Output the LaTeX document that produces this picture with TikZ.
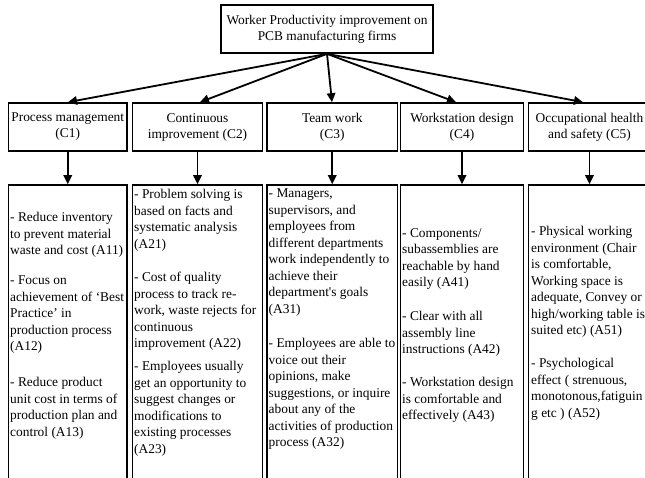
\documentclass[tikz,border=0pt]{standalone}
\usepackage{fontspec}
\setmainfont{Liberation Serif}[Ligatures=TeXOff]
\usetikzlibrary{arrows.meta}
\begin{document}
\begin{tikzpicture}[x=1pt,y=-1pt,
  box/.style={draw, line width=1.7pt, inner sep=0pt},
  cbox/.style={box, align=center, font=\fontsize{13.4}{16}\selectfont},
  abox/.style={box, minimum height=315pt},
  atext/.style={anchor=north west, inner sep=0pt, align=left, font=\fontsize{13.4}{16.5}\selectfont},
  arr/.style={line width=1.8pt, -{Triangle[length=9pt,width=8.5pt]}}]
\useasboundingbox (0,0) rectangle (645,477);
\clip (0,0) rectangle (645,477);

% top box
\node[cbox, minimum width=212pt, minimum height=48pt] (top) at (327,29) {Worker Productivity improvement on\\PCB manufacturing firms};

% criteria boxes
\node[cbox, minimum width=118.5pt, minimum height=48pt] (c1) at (67.75,127) {Process management\\(C1)};
\node[cbox, minimum width=130pt, minimum height=48pt] (c2) at (197.5,127) {Continuous\\improvement (C2)};
\node[cbox, minimum width=130.5pt, minimum height=48pt] (c3) at (332.25,127) {Team work\\(C3)};
\node[cbox, minimum width=123pt, minimum height=48pt] (c4) at (462,127) {Workstation design\\(C4)};
\node[cbox, minimum width=122pt, minimum height=48pt] (c5) at (589.5,127) {Occupational health\\and safety (C5)};

% attribute boxes
\node[abox, minimum width=118.5pt] (a1) at (67.75,342.5) {};
\node[abox, minimum width=130pt] (a2) at (197.5,342.5) {};
\node[abox, minimum width=130.5pt] (a3) at (332.25,342.5) {};
\node[abox, minimum width=123pt] (a4) at (462,342.5) {};
\node[abox, minimum width=122pt] (a5) at (589.5,342.5) {};

% arrows
\draw[arr] (top.south) -- ([xshift=0.25pt]c1.north);
\draw[arr] (top.south) -- ([xshift=2.5pt]c2.north);
\draw[arr] (top.south) -- ([xshift=-0.25pt]c3.north);
\draw[arr] (top.south) -- ([xshift=-6pt]c4.north);
\draw[arr] (top.south) -- ([xshift=-6.5pt]c5.north);
\foreach \i in {1,...,5} \draw[arr] (c\i.south) -- (a\i.north);

% texts A1
\node[atext] (t11) at (10,212) {- Reduce inventory\\to prevent material\\waste and cost (A11)};
\node[atext] (t12) at (10,276) {- Focus on\\achievement of ‘Best\\Practice’ in\\production process\\(A12)};
\node[atext] (t13) at (10,377) {- Reduce product\\unit cost in terms of\\production plan and\\control (A13)};
% A2
\node[atext] (t21) at (134,189) {- Problem solving is\\based on facts and\\systematic analysis\\(A21)};
\node[atext] (t22) at (134,272) {- Cost of quality\\process to track re-\\work, waste rejects for\\continuous\\improvement (A22)};
\node[atext] (t23) at (134,361) {- Employees usually\\get an opportunity to\\suggest changes or\\modifications to\\existing processes\\(A23)};
% A3
\node[atext] (t31) at (268.5,189) {- Managers,\\supervisors, and\\employees from\\different departments\\work independently to\\achieve their\\department's goals\\(A31)};
\node[atext] (t32) at (268.5,338) {- Employees are able to\\voice out their\\opinions, make\\suggestions, or inquire\\about any of the\\activities of production\\process (A32)};
% A4
\node[atext] (t41) at (402,228) {- Components/\\subassemblies are\\reachable by hand\\easily (A41)};
\node[atext] (t42) at (402,311) {- Clear with all\\assembly line\\instructions (A42)};
\node[atext] (t43) at (402,377) {- Workstation design\\is comfortable and\\effectively (A43)};
% A5
\node[atext] (t51) at (531,226) {- Physical working\\environment (Chair\\is comfortable,\\Working space is\\adequate, Convey or\\high/working table is\\suited etc) (A51)};
\node[atext] (t52) at (531,358) {- Psychological\\effect ( strenuous,\\monotonous,fatiguin\\g etc ) (A52)};
\end{tikzpicture}
\end{document}
